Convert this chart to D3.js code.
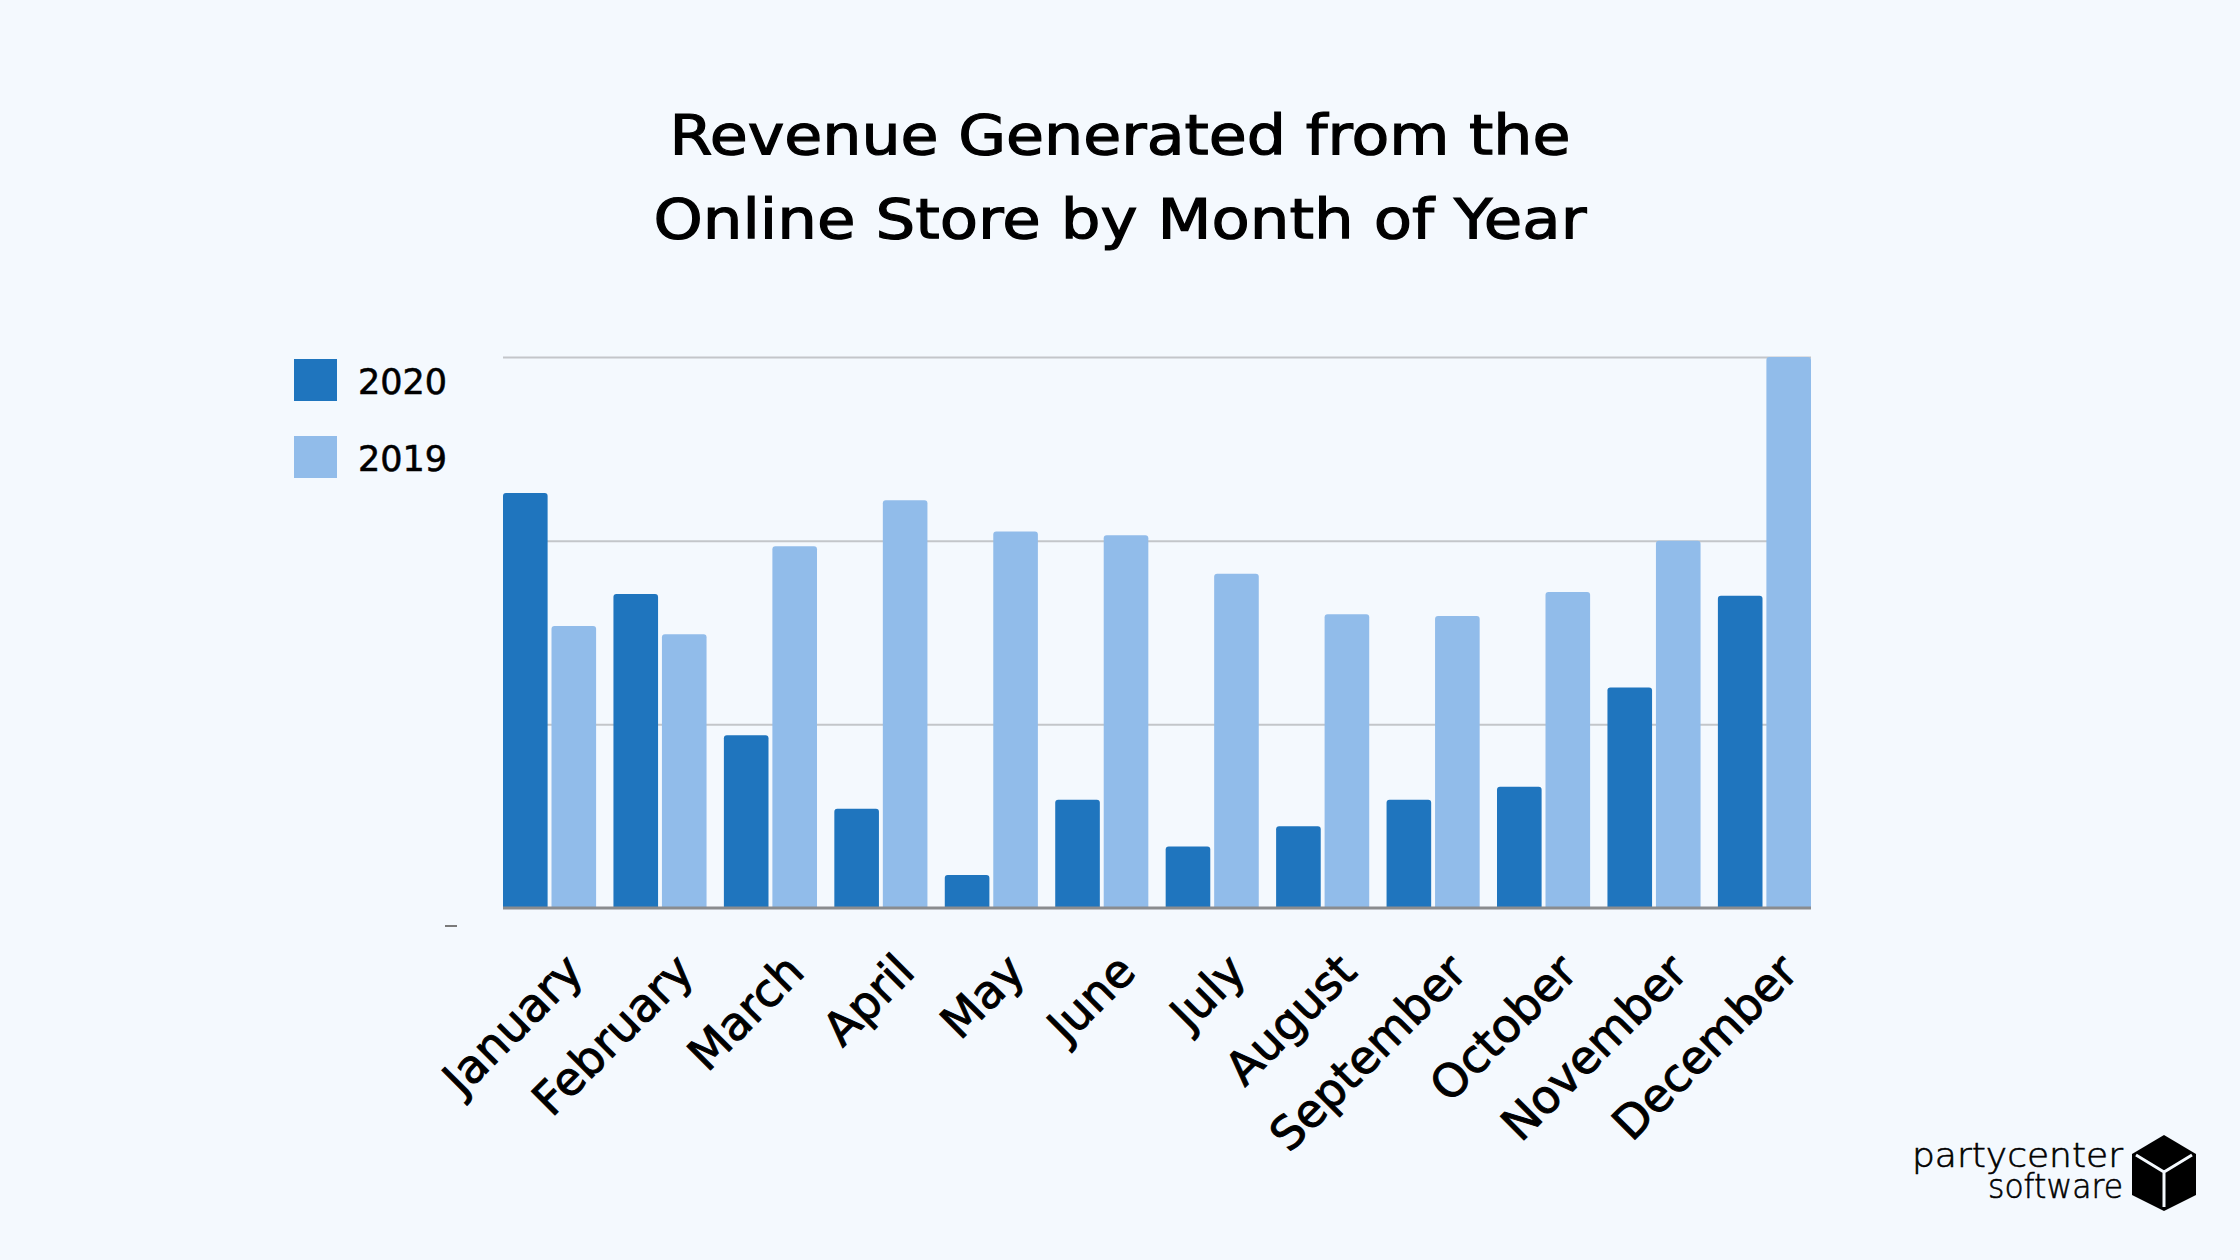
<!DOCTYPE html>
<html>
<head>
<meta charset="utf-8">
<script src="https://cdn.jsdelivr.net/npm/d3@7"></script>
<style>
  body { margin: 0; background: #f4f9fe; }
  svg { display: block; }
</style>
</head>
<body>
<div id="chart"></div>
<script>
// values (no y labels, so units are relative: top gridline = 30)
const months = ["January", "February", "March", "April", "May", "June",
    "July", "August", "September", "October", "November", "December"];
const years = ["2020", "2019"];
const revenue2020 = [22.6, 17.1, 9.4, 5.4, 1.8, 5.9, 3.35, 4.45, 5.9, 6.6, 12.0, 17.0];
const revenue2019 = [15.35, 14.9, 19.7, 22.2, 20.5, 20.3, 18.2, 16.0, 15.9, 17.2, 20.0, 30.0];
const gridValues = [10, 20, 30];
const titleLines = ["Revenue Generated from the", "Online Store by Month of Year"];
const colors = { "2020": "#1f75be", "2019": "#91bcea" };

function drawChart() {
    const width = 2240;
    const height = 1260;
    const plot = { left: 503, right: 1811, top: 357, bottom: 908 };
    const font = "'DejaVu Sans', sans-serif";

    const data = months.map((m, i) => ({
        month: m,
        values: [
            { year: "2020", value: revenue2020[i] },
            { year: "2019", value: revenue2019[i] }
        ]
    }));

    const svg = d3.select("#chart")
        .append("svg")
        .attr("width", width)
        .attr("height", height)
        .style("background-color", "#f4f9fe");

    // title
    const titleWidths = [901, 933];
    titleLines.forEach((line, i) => {
        svg.append("text")
            .attr("x", width / 2)
            .attr("y", 154 + i * 84)
            .attr("text-anchor", "middle")
            .attr("textLength", titleWidths[i])
            .attr("lengthAdjust", "spacingAndGlyphs")
            .style("font-family", font)
            .style("font-size", "56px")
            .style("fill", "#000")
            .style("stroke", "#000")
            .style("stroke-width", 1.2)
            .text(line);
    });

    const x0 = d3.scaleBand()
        .domain(months)
        .range([plot.left, plot.right])
        .paddingInner(0.157)
        .paddingOuter(0);

    const x1 = d3.scaleBand()
        .domain(years)
        .range([0, x0.bandwidth()])
        .paddingInner(0.08);

    const y = d3.scaleLinear()
        .domain([0, 30])
        .range([plot.bottom, plot.top]);

    // gridlines
    svg.append("g")
        .attr("transform", `translate(${plot.left},0)`)
        .call(d3.axisLeft(y)
            .tickValues(gridValues)
            .tickSize(-(plot.right - plot.left))
            .tickFormat(""))
        .call(g => g.select(".domain").remove())
        .call(g => g.selectAll(".tick line")
            .attr("stroke", "#c3c6ca")
            .attr("stroke-width", 2));

    // bars
    function topRounded(x, y0, w, h, r) {
        r = Math.min(r, h);
        return `M${x},${y0 + h}V${y0 + r}Q${x},${y0} ${x + r},${y0}H${x + w - r}Q${x + w},${y0} ${x + w},${y0 + r}V${y0 + h}Z`;
    }

    const groups = svg.append("g")
        .selectAll("g")
        .data(data)
        .join("g")
        .attr("transform", d => `translate(${x0(d.month)},0)`);

    groups.selectAll("path")
        .data(d => d.values)
        .join("path")
        .attr("fill", d => colors[d.year])
        .attr("d", d => topRounded(x1(d.year), y(d.value), x1.bandwidth(), y(0) - y(d.value), 3));

    // baseline
    svg.append("line")
        .attr("x1", plot.left)
        .attr("x2", plot.right)
        .attr("y1", y(0))
        .attr("y2", y(0))
        .attr("stroke", "#8a8c8f")
        .attr("stroke-width", 3);

    // little stray zero mark left of the axis
    svg.append("line")
        .attr("x1", 445)
        .attr("x2", 457)
        .attr("y1", y(0) + 18)
        .attr("y2", y(0) + 18)
        .attr("stroke", "#7a7a7a")
        .attr("stroke-width", 2);

    // month labels
    svg.append("g")
        .selectAll("text")
        .data(months)
        .join("text")
        .attr("transform", d => `translate(${x0(d) + x0.bandwidth() / 2 + 36},${plot.bottom + 66}) rotate(-45)`)
        .attr("text-anchor", "end")
        .style("font-family", font)
        .style("font-size", "46px")
        .style("fill", "#000")
        .style("stroke", "#000")
        .style("stroke-width", 1)
        .text(d => d);

    // legend
    const legend = svg.append("g")
        .attr("transform", "translate(294,359)");

    years.forEach((yr, i) => {
        legend.append("rect")
            .attr("x", 0)
            .attr("y", i * 77)
            .attr("width", 43)
            .attr("height", 42)
            .attr("fill", colors[yr]);

        legend.append("text")
            .attr("x", 64)
            .attr("y", i * 77 + 35)
            .style("font-family", font)
            .style("font-size", "35px")
            .style("fill", "#000")
            .style("stroke", "#000")
            .style("stroke-width", 0.6)
            .text(yr);
    });

    drawLogo(svg);
}

function drawLogo(svg) {
    const logo = svg.append("g");

    [["partycenter", 1167, 211], ["software", 1198, 135]].forEach(([word, yPos, len]) => {
        logo.append("text")
            .attr("x", 2123)
            .attr("y", yPos)
            .attr("text-anchor", "end")
            .attr("textLength", len)
            .attr("lengthAdjust", "spacingAndGlyphs")
            .style("font-family", "'DejaVu Sans', sans-serif")
            .style("font-weight", 200)
            .style("font-size", "33px")
            .style("fill", "#000")
            .style("stroke", "#000")
            .style("stroke-width", 0.6)
            .text(word);
    });

    // cube
    const cx = 2164, top = 1135, half = 32;
    const cube = [[cx, top], [cx + half, top + 19], [cx + half, top + 60],
        [cx, top + 76], [cx - half, top + 60], [cx - half, top + 19]];
    logo.append("path")
        .attr("d", d3.line()(cube) + "Z")
        .attr("fill", "#000");

    const mid = [cx, top + 37];
    logo.append("path")
        .attr("d", d3.line()([[cx - half + 4, top + 20], mid, [cx + half - 4, top + 20]]) +
            d3.line()([mid, [cx, top + 72]]))
        .attr("fill", "none")
        .attr("stroke", "#f4f9fe")
        .attr("stroke-width", 3);
}

drawChart();
</script>
</body>
</html>
